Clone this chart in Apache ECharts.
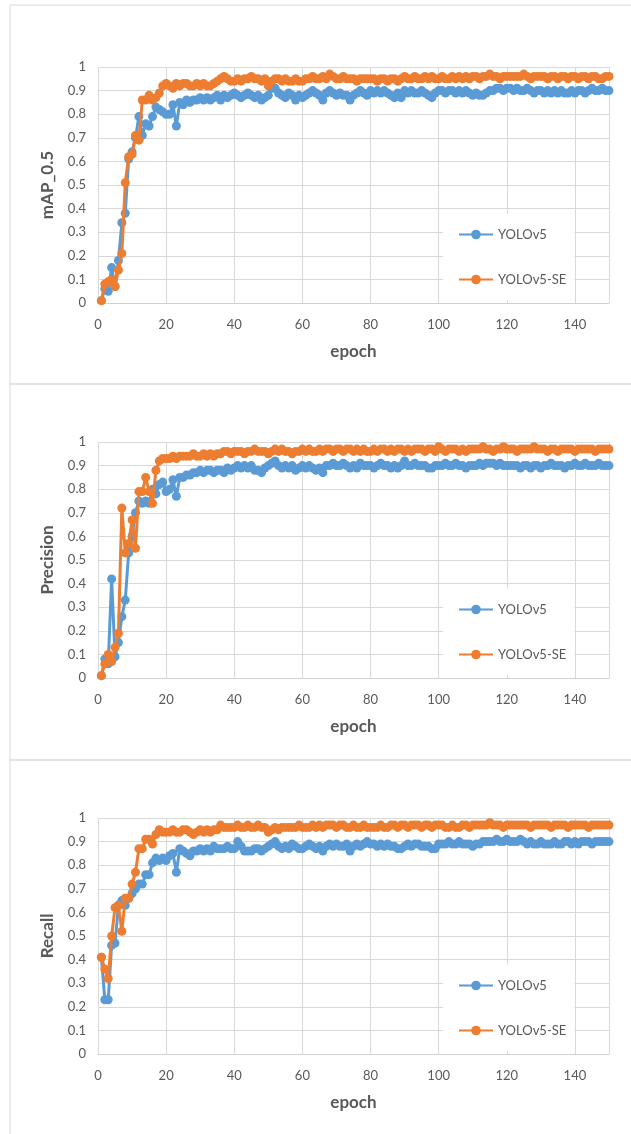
<!DOCTYPE html>
<html>
<head>
<meta charset="utf-8">
<script src="https://cdn.jsdelivr.net/npm/echarts@6/dist/echarts.min.js"></script>
<style>
    html, body { margin: 0; padding: 0; background: #fff; }
    #main { width: 631px; height: 1134px; }
</style>
</head>
<body>
<div id="main"></div>
<script>
// mAP_0.5 per epoch (1..150)
var mapYolo = [
    0.01, 0.06, 0.05, 0.15, 0.07, 0.18, 0.34, 0.38, 0.61, 0.64,
    0.70, 0.79, 0.71, 0.76, 0.75, 0.79, 0.83, 0.82, 0.81, 0.80,
    0.80, 0.84, 0.75, 0.85, 0.84, 0.86, 0.85, 0.86, 0.86, 0.87,
    0.86, 0.87, 0.86, 0.87, 0.88, 0.86, 0.88, 0.87, 0.88, 0.89,
    0.88, 0.87, 0.88, 0.89, 0.88, 0.87, 0.88, 0.86, 0.87, 0.88,
    0.91, 0.91, 0.89, 0.88, 0.87, 0.89, 0.88, 0.86, 0.88, 0.87,
    0.88, 0.89, 0.90, 0.89, 0.88, 0.86, 0.89, 0.90, 0.89, 0.88,
    0.89, 0.88, 0.88, 0.86, 0.88, 0.89, 0.90, 0.89, 0.88, 0.90,
    0.89, 0.90, 0.89, 0.90, 0.89, 0.88, 0.87, 0.89, 0.87, 0.90,
    0.89, 0.90, 0.89, 0.89, 0.90, 0.89, 0.88, 0.87, 0.89, 0.90,
    0.90, 0.89, 0.90, 0.90, 0.89, 0.90, 0.89, 0.90, 0.89, 0.88,
    0.89, 0.88, 0.88, 0.89, 0.90, 0.90, 0.91, 0.91, 0.90, 0.91,
    0.91, 0.90, 0.91, 0.90, 0.90, 0.91, 0.90, 0.89, 0.90, 0.90,
    0.89, 0.90, 0.89, 0.90, 0.89, 0.90, 0.89, 0.89, 0.90, 0.89,
    0.90, 0.90, 0.89, 0.90, 0.91, 0.90, 0.90, 0.91, 0.90, 0.90
];
var mapYoloSE = [
    0.01, 0.08, 0.09, 0.10, 0.07, 0.14, 0.21, 0.51, 0.62, 0.63,
    0.71, 0.69, 0.86, 0.86, 0.88, 0.86, 0.87, 0.89, 0.92, 0.93,
    0.92, 0.91, 0.93, 0.92, 0.93, 0.93, 0.92, 0.92, 0.93, 0.92,
    0.93, 0.92, 0.92, 0.93, 0.94, 0.95, 0.96, 0.95, 0.94, 0.94,
    0.95, 0.94, 0.95, 0.95, 0.96, 0.95, 0.95, 0.94, 0.95, 0.92,
    0.94, 0.95, 0.95, 0.94, 0.95, 0.94, 0.94, 0.95, 0.94, 0.94,
    0.95, 0.95, 0.96, 0.95, 0.95, 0.96, 0.95, 0.97, 0.96, 0.95,
    0.95, 0.96, 0.95, 0.95, 0.95, 0.94, 0.95, 0.95, 0.95, 0.95,
    0.95, 0.94, 0.95, 0.95, 0.94, 0.95, 0.95, 0.94, 0.95, 0.96,
    0.95, 0.95, 0.96, 0.95, 0.95, 0.96, 0.95, 0.96, 0.95, 0.95,
    0.96, 0.95, 0.95, 0.96, 0.95, 0.96, 0.95, 0.96, 0.95, 0.96,
    0.96, 0.95, 0.96, 0.96, 0.97, 0.96, 0.96, 0.95, 0.96, 0.96,
    0.96, 0.96, 0.96, 0.96, 0.97, 0.96, 0.95, 0.96, 0.96, 0.96,
    0.96, 0.95, 0.96, 0.96, 0.95, 0.96, 0.96, 0.95, 0.96, 0.96,
    0.95, 0.96, 0.96, 0.95, 0.96, 0.96, 0.95, 0.95, 0.96, 0.96
];
// Precision per epoch
var precYolo = [
    0.01, 0.08, 0.06, 0.42, 0.09, 0.15, 0.26, 0.33, 0.53, 0.60,
    0.70, 0.75, 0.74, 0.75, 0.74, 0.80, 0.78, 0.82, 0.83, 0.79,
    0.80, 0.84, 0.77, 0.85, 0.85, 0.86, 0.86, 0.87, 0.87, 0.88,
    0.87, 0.88, 0.88, 0.87, 0.88, 0.88, 0.87, 0.89, 0.88, 0.89,
    0.90, 0.89, 0.90, 0.89, 0.90, 0.88, 0.88, 0.87, 0.89, 0.90,
    0.91, 0.92, 0.90, 0.89, 0.90, 0.89, 0.90, 0.88, 0.89, 0.90,
    0.89, 0.90, 0.89, 0.88, 0.89, 0.87, 0.90, 0.90, 0.91, 0.90,
    0.90, 0.91, 0.90, 0.89, 0.90, 0.89, 0.91, 0.90, 0.90, 0.90,
    0.89, 0.90, 0.91, 0.90, 0.90, 0.89, 0.90, 0.89, 0.90, 0.92,
    0.90, 0.90, 0.91, 0.90, 0.90, 0.90, 0.89, 0.89, 0.90, 0.90,
    0.90, 0.91, 0.90, 0.90, 0.91, 0.90, 0.90, 0.89, 0.90, 0.90,
    0.90, 0.91, 0.90, 0.91, 0.91, 0.91, 0.90, 0.91, 0.90, 0.90,
    0.90, 0.90, 0.90, 0.89, 0.90, 0.90, 0.89, 0.90, 0.90, 0.89,
    0.90, 0.90, 0.91, 0.90, 0.90, 0.90, 0.89, 0.90, 0.90, 0.91,
    0.90, 0.90, 0.91, 0.90, 0.90, 0.90, 0.91, 0.90, 0.90, 0.90
];
var precYoloSE = [
    0.01, 0.06, 0.10, 0.07, 0.13, 0.19, 0.72, 0.53, 0.57, 0.67,
    0.55, 0.79, 0.79, 0.85, 0.79, 0.74, 0.88, 0.92, 0.93, 0.93,
    0.93, 0.94, 0.93, 0.94, 0.94, 0.94, 0.94, 0.95, 0.94, 0.94,
    0.95, 0.94, 0.95, 0.94, 0.95, 0.95, 0.96, 0.96, 0.95, 0.96,
    0.96, 0.96, 0.95, 0.96, 0.96, 0.97, 0.96, 0.96, 0.96, 0.95,
    0.96, 0.97, 0.96, 0.97, 0.96, 0.96, 0.95, 0.96, 0.96, 0.97,
    0.96, 0.97, 0.96, 0.96, 0.97, 0.96, 0.97, 0.97, 0.96, 0.97,
    0.97, 0.96, 0.97, 0.97, 0.96, 0.97, 0.96, 0.97, 0.96, 0.96,
    0.97, 0.96, 0.97, 0.97, 0.96, 0.97, 0.96, 0.97, 0.97, 0.96,
    0.97, 0.96, 0.97, 0.97, 0.97, 0.96, 0.97, 0.97, 0.96, 0.98,
    0.97, 0.96, 0.97, 0.97, 0.97, 0.96, 0.97, 0.96, 0.97, 0.97,
    0.97, 0.97, 0.98, 0.97, 0.97, 0.96, 0.97, 0.97, 0.98, 0.97,
    0.97, 0.97, 0.96, 0.97, 0.97, 0.97, 0.97, 0.98, 0.97, 0.97,
    0.97, 0.96, 0.97, 0.97, 0.96, 0.97, 0.97, 0.97, 0.97, 0.96,
    0.97, 0.97, 0.97, 0.97, 0.97, 0.96, 0.97, 0.97, 0.97, 0.97
];
// Recall per epoch
var recYolo = [
    0.41, 0.23, 0.23, 0.46, 0.47, 0.63, 0.65, 0.63, 0.66, 0.68,
    0.70, 0.72, 0.72, 0.76, 0.76, 0.81, 0.83, 0.82, 0.83, 0.82,
    0.84, 0.85, 0.77, 0.87, 0.86, 0.85, 0.84, 0.86, 0.86, 0.87,
    0.86, 0.87, 0.86, 0.88, 0.87, 0.87, 0.87, 0.88, 0.87, 0.87,
    0.90, 0.88, 0.86, 0.86, 0.86, 0.87, 0.87, 0.86, 0.87, 0.88,
    0.89, 0.90, 0.88, 0.87, 0.88, 0.87, 0.89, 0.88, 0.87, 0.87,
    0.88, 0.89, 0.88, 0.87, 0.88, 0.86, 0.88, 0.89, 0.88, 0.89,
    0.88, 0.88, 0.89, 0.86, 0.88, 0.89, 0.88, 0.89, 0.90, 0.89,
    0.89, 0.88, 0.89, 0.88, 0.89, 0.88, 0.88, 0.87, 0.87, 0.88,
    0.89, 0.88, 0.89, 0.89, 0.88, 0.88, 0.88, 0.87, 0.87, 0.89,
    0.89, 0.89, 0.90, 0.89, 0.89, 0.90, 0.89, 0.89, 0.89, 0.88,
    0.89, 0.89, 0.90, 0.90, 0.90, 0.90, 0.91, 0.90, 0.90, 0.91,
    0.90, 0.90, 0.90, 0.91, 0.90, 0.89, 0.90, 0.89, 0.89, 0.90,
    0.89, 0.89, 0.89, 0.90, 0.89, 0.89, 0.90, 0.90, 0.89, 0.90,
    0.89, 0.90, 0.90, 0.90, 0.89, 0.90, 0.90, 0.90, 0.90, 0.90
];
var recYoloSE = [
    0.41, 0.36, 0.32, 0.50, 0.62, 0.63, 0.52, 0.66, 0.66, 0.72,
    0.77, 0.87, 0.87, 0.91, 0.91, 0.89, 0.93, 0.95, 0.94, 0.94,
    0.94, 0.95, 0.94, 0.94, 0.95, 0.95, 0.94, 0.93, 0.94, 0.95,
    0.94, 0.95, 0.94, 0.95, 0.95, 0.97, 0.96, 0.96, 0.96, 0.96,
    0.97, 0.96, 0.96, 0.97, 0.96, 0.96, 0.97, 0.96, 0.96, 0.94,
    0.95, 0.96, 0.95, 0.96, 0.96, 0.96, 0.96, 0.96, 0.97, 0.96,
    0.96, 0.96, 0.97, 0.96, 0.97, 0.96, 0.97, 0.97, 0.97, 0.96,
    0.97, 0.97, 0.96, 0.96, 0.97, 0.96, 0.96, 0.97, 0.96, 0.96,
    0.96, 0.96, 0.97, 0.96, 0.96, 0.97, 0.97, 0.96, 0.97, 0.97,
    0.96, 0.97, 0.97, 0.97, 0.96, 0.97, 0.97, 0.96, 0.97, 0.97,
    0.97, 0.96, 0.96, 0.97, 0.96, 0.96, 0.97, 0.97, 0.96, 0.97,
    0.97, 0.97, 0.97, 0.97, 0.98, 0.97, 0.97, 0.97, 0.96, 0.97,
    0.97, 0.97, 0.97, 0.97, 0.97, 0.97, 0.96, 0.97, 0.97, 0.97,
    0.97, 0.97, 0.96, 0.97, 0.97, 0.97, 0.97, 0.96, 0.97, 0.97,
    0.97, 0.97, 0.97, 0.96, 0.97, 0.97, 0.97, 0.97, 0.97, 0.97
];

var seriesNames = ['YOLOv5', 'YOLOv5-SE'];
var yTitles = ['mAP_0.5', 'Precision', 'Recall'];
var panelData = [[mapYolo, mapYoloSE], [precYolo, precYoloSE], [recYolo, recYoloSE]];

var colors = ['#5B9BD5', '#ED7D31'];
var txtColor = '#595959';
var gridColor = '#d9d9d9';
var fontFam = 'Lato, "Liberation Sans", sans-serif';

// panel boxes and plot areas
var panelTop = [5, 384, 760];
var panelHeight = [379, 376, 390];
var plotTop = [67, 442, 818];

function toPairs(arr) {
    var out = [];
    for (var i = 0; i < arr.length; i++) {
        out.push([i + 1, arr[i]]);
    }
    return out;
}

var chart = echarts.init(document.getElementById('main'), null, {renderer: 'canvas'});

var option = {
    animation: false,
    backgroundColor: '#fff',
    textStyle: {fontFamily: fontFam},
    grid: [],
    xAxis: [],
    yAxis: [],
    legend: [],
    series: [],
    graphic: []
};

for (var p = 0; p < 3; p++) {
    // each panel gets its own suffix so the three legends stay separate
    var suffix = new Array(p + 1).join(' ');

    option.graphic.push({
        type: 'rect',
        shape: {x: 10, y: panelTop[p], width: 640, height: panelHeight[p]},
        style: {fill: null, stroke: gridColor, lineWidth: 1},
        z: -1
    });

    option.grid.push({
        left: 98, width: 511, top: plotTop[p], height: 236,
        containLabel: false
    });

    option.xAxis.push({
        type: 'value',
        gridIndex: p,
        min: 0, max: 150, interval: 20,
        name: 'epoch',
        nameLocation: 'middle',
        nameGap: 40,
        nameTextStyle: {color: txtColor, fontSize: 17, fontWeight: 'bold', fontFamily: fontFam},
        axisLine: {show: true, lineStyle: {color: '#d0d0d0', width: 1}},
        axisTick: {show: false},
        axisLabel: {color: txtColor, fontSize: 13, margin: 15, fontFamily: fontFam,
            showMaxLabel: false},
        splitLine: {show: true, lineStyle: {color: gridColor, width: 1}}
    });

    option.yAxis.push({
        type: 'value',
        gridIndex: p,
        min: 0, max: 1, interval: 0.1,
        name: yTitles[p],
        nameLocation: 'middle',
        nameGap: 42,
        nameRotate: 90,
        nameTextStyle: {color: txtColor, fontSize: 17, fontWeight: 'bold', fontFamily: fontFam},
        axisLine: {show: false},
        axisTick: {show: false},
        axisLabel: {color: txtColor, fontSize: 13, margin: 12, fontFamily: fontFam},
        splitLine: {show: true, lineStyle: {color: gridColor, width: 1}}
    });

    option.legend.push({
        orient: 'vertical',
        left: 443,
        top: plotTop[p] + 147,
        padding: [14, 8, 14, 15],
        itemGap: 32,
        itemWidth: 34,
        itemHeight: 12,
        backgroundColor: '#fff',
        textStyle: {color: txtColor, fontSize: 13, fontFamily: fontFam},
        data: [seriesNames[0] + suffix, seriesNames[1] + suffix],
        formatter: function (name) { return name.trim(); }
    });

    for (var s = 0; s < 2; s++) {
        option.series.push({
            name: seriesNames[s] + suffix,
            type: 'line',
            xAxisIndex: p,
            yAxisIndex: p,
            data: toPairs(panelData[p][s]),
            symbol: 'circle',
            symbolSize: 9,
            showAllSymbol: true,
            color: colors[s],
            lineStyle: {color: colors[s], width: 3},
            itemStyle: {color: colors[s]},
            z: 2 + s
        });
    }
}

chart.setOption(option);
</script>
</body>
</html>
